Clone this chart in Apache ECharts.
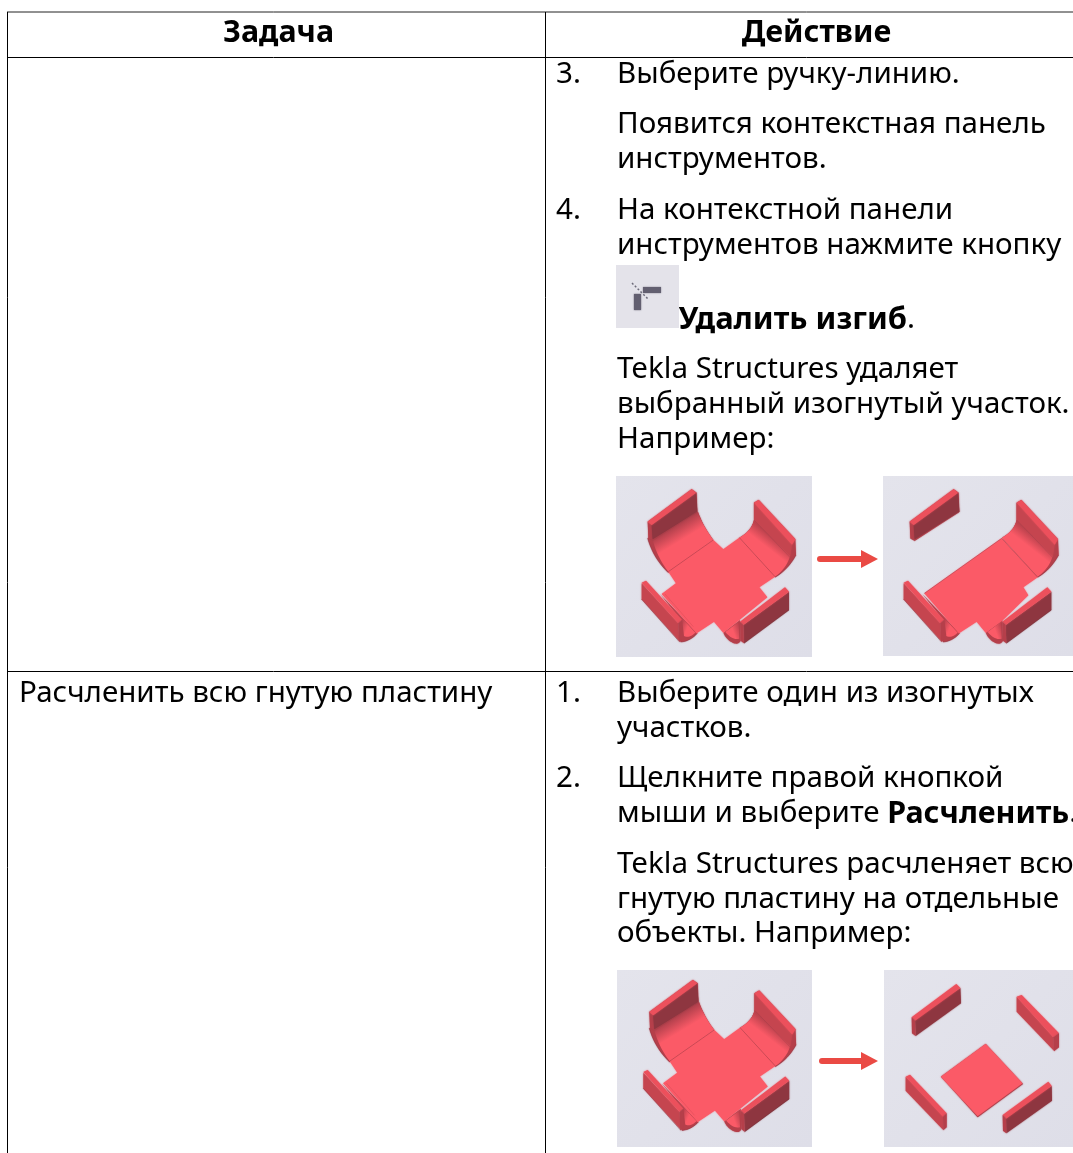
<!DOCTYPE html>
<html>
<head>
<meta charset="utf-8">
<title>Задача / Действие</title>
<style>
  html, body { margin: 0; padding: 0; background: #fff; }
  #main { width: 1073px; height: 1153px; }
</style>
<script src="https://cdn.jsdelivr.net/npm/echarts@6/dist/echarts.min.js"></script>
</head>
<body>
<div id="main"></div>
<script>
const headers = ['Задача', 'Действие'];
const taskLabels = ['Расчленить всю гнутую пластину'];
const stepNumbers = ['3.', '4.', '1.', '2.'];
const stepLines = [
  'Выберите ручку-линию.',
  'Появится контекстная панель',
  'инструментов.',
  'На контекстной панели',
  'инструментов нажмите кнопку',
  '{c|Удалить изгиб}{n|.}',
  'Tekla Structures удаляет',
  'выбранный изогнутый участок.',
  'Например:',
  'Выберите один из изогнутых',
  'участков.',
  'Щелкните правой кнопкой',
  'мыши и выберите {b|Расчленить}{n|.}',
  'Tekla Structures расчленяет всю',
  'гнутую пластину на отдельные',
  'объекты. Например:'
];
const stepLineY = [75, 125, 160, 211, 246, 320, 370, 405, 440, 694, 729, 779, 814, 865, 900, 934];
const stepNumberY = [75, 211, 694, 779];

const FONT = '"Noto Sans", sans-serif';
const FONT_SIZE = 29.55;
const BOLD_SIZE = 30.4;
const FLAT = '#fb5a67', DARK = '#8e3640', MID = '#c5454f', TOP = '#ec505c', RIM = '#b53f4a', EDGE = '#8a3440';
const BEND = { type: 'linear', x: 0, y: 0, x2: 0.6, y2: 1, colorStops: [{ offset: 0.33, color: '#ad3e4a' }, { offset: 0.56, color: FLAT }] };
const BEND_R = { type: 'linear', x: 1, y: 0, x2: 0.3, y2: 0.8, colorStops: [{ offset: 0.42, color: '#bd424d' }, { offset: 0.62, color: FLAT }] };
const BEND_BL = { type: 'linear', x: 0, y: 0, x2: 1, y2: 0.3, colorStops: [{ offset: 0, color: '#b03e4a' }, { offset: 0.6, color: FLAT }] };
const BEND_BR = { type: 'linear', x: 1, y: 0, x2: 0, y2: 0.3, colorStops: [{ offset: 0, color: '#b03e4a' }, { offset: 0.6, color: FLAT }] };

// the graphic component has no plain path type, so M/L/Q strings become point lists
function toPoints(d) {
  const t = d.match(/[MLQZ]|-?\d+(\.\d+)?/g);
  const pts = [];
  let i = 0, cx = 0, cy = 0;
  while (i < t.length) {
    const c = t[i++];
    if (c === 'M' || c === 'L') {
      cx = +t[i++]; cy = +t[i++];
      pts.push([cx, cy]);
    } else if (c === 'Q') {
      const qx = +t[i++], qy = +t[i++], ex = +t[i++], ey = +t[i++];
      for (let k = 1; k <= 10; k++) {
        const u = k / 10, v = 1 - u;
        pts.push([v * v * cx + 2 * u * v * qx + u * u * ex, v * v * cy + 2 * u * v * qy + u * u * ey]);
      }
      cx = ex; cy = ey;
    }
  }
  return pts;
}

function path(d, fill, stroke) {
  if (stroke) {
    return { type: 'polyline', shape: { points: toPoints(d) }, style: { fill: null, stroke: stroke, lineWidth: 2, opacity: 0.75 } };
  }
  const style = { fill: fill };
  if (typeof fill === 'string') {
    style.shadowBlur = 1.5;
    style.shadowColor = fill;
  }
  return { type: 'polygon', shape: { points: toPoints(d) }, style: style };
}

// bent plate pieces, drawn in 3x crop coordinates
const wallTL = () => [
  path('M113 155 L245 58 L260 68 L262 125 L128 212 L115 205 Z', RIM),
  path('M125 165 L258 70 L262 125 L128 208 Z', DARK),
  path('M113 155 L245 58 L258 68 L125 165 Z', TOP),
  path('M115 205 L128 212 L262 125', null, '#a8404a')
];
const bendTL = () => [
  path('M113 205 Q130 265 175 308 L310 210 Q280 170 264 125 Z', RIM),
  path('M128 208 L262 125 Q280 170 310 210 L175 305 Q140 260 128 208 Z', BEND),
  path('M113 205 Q130 265 175 308', null, EDGE)
];
const wallTR = () => [
  path('M432 98 L446 90 L556 208 L558 255 Q535 298 495 322 L388 203 Q425 182 432 150 Z', RIM),
  path('M432 98 L546 224 L540 262 L432 150 Z', MID),
  path('M432 98 L446 90 L556 208 L546 224 Z', TOP),
  path('M432 150 Q425 182 388 203 L495 320 Q530 295 540 258 Z', BEND_R),
  path('M432 150 L540 262', null, '#a8404a'),
  path('M558 255 Q535 298 495 322', null, EDGE)
];
const bendBL = () => [
  path('M150 372 L262 490 Q240 514 212 516 L205 505 L215 452 Z', RIM),
  path('M216 445 L256 488 Q238 506 222 498 Z', BEND_BL),
  path('M262 490 Q240 514 212 516', null, EDGE)
];
const wallBL = () => [
  path('M95 340 L205 460 L207 512 L95 388 Z', MID),
  path('M95 338 L108 332 L216 450 L205 460 Z', TOP),
  path('M205 460 L216 450 L216 508 L207 516 Z', RIM),
  path('M95 388 L207 514', null, EDGE)
];
const bendBR = () => [
  path('M340 488 L390 450 L392 512 Q385 526 368 518 Q350 510 340 488 Z', RIM),
  path('M346 486 L386 456 L388 506 Q368 512 346 486 Z', BEND_BR)
];
const wallBR = () => [
  path('M400 465 L537 365 L537 420 L402 520 Z', DARK),
  path('M390 455 L525 352 L537 365 L400 465 Z', TOP),
  path('M390 455 L400 465 L402 520 L392 512 Z', RIM),
  path('M402 520 L537 420', null, '#6f2a33')
];

function shifted(items, dx, dy) {
  return { type: 'group', x: dx, y: dy, children: items };
}

const plateFull = () => [].concat(
  bendTL(), wallTL(), wallTR(), bendBL(), bendBR(),
  [path('M175 305 L310 210 L340 238 L388 203 L495 320 L448 352 L472 382 L388 450 L340 488 L312 455 L260 490 L155 372 L198 340 Z', FLAT),
   path('M175 305 L310 210', null, '#a33b46'),
   path('M388 203 L495 320', null, '#a33b46'),
   path('M165 372 L250 470', null, '#d84c58')],
  wallBL(), wallBR()
);
const plateCut = () => [
  shifted(wallTL(), -9, 0),
  shifted(wallTR(), -7, 0),
  shifted(bendBL(), -8, 0),
  shifted(bendBR(), -8, 0),
  path('M148 370 L380 205 L488 322 L445 352 L460 376 L384 450 L332 488 L305 455 L252 490 Z', FLAT),
  path('M148 370 L380 205', null, '#a33b46'),
  path('M380 205 L488 322', null, '#a33b46'),
  shifted(wallBL(), -9, 0),
  shifted(wallBR(), -8, 0)
];
const plateApart = () => [
  path('M198 350 L308 472 L444 372 L332 252 Z', '#a33b46'),
  path('M198 350 L332 252 L442 370 L308 468 Z', FLAT),
  path('M120 172 L256 84 L258 130 L122 228 Z', DARK),
  path('M110 172 L244 72 L256 84 L120 182 Z', TOP),
  path('M110 172 L120 182 L122 228 L111 220 Z', RIM),
  path('M425 110 L535 232 L537 272 L425 155 Z', MID),
  path('M425 110 L440 105 L552 220 L535 232 Z', TOP),
  path('M535 232 L552 220 L552 262 L537 274 Z', RIM),
  path('M92 350 L204 468 L205 510 L92 392 Z', MID),
  path('M92 350 L105 344 L215 460 L204 470 Z', TOP),
  path('M204 470 L215 460 L215 502 L205 511 Z', RIM),
  path('M393 465 L530 378 L531 422 L394 520 Z', DARK),
  path('M383 465 L520 365 L530 378 L393 476 Z', TOP),
  path('M383 465 L393 476 L394 520 L384 512 Z', RIM)
];

function picture(x, y, w, h, ox, oy, sx, sy, children) {
  return [
    { type: 'rect', shape: { x: x, y: y, width: w, height: h },
      style: { fill: { type: 'linear', x: 0, y: 0, x2: 1, y2: 1, colorStops: [{ offset: 0, color: '#e4e4ec' }, { offset: 1, color: '#dedee8' }] } } },
    { type: 'group', x: ox, y: oy, scaleX: sx / 3, scaleY: sy / 3, children: children }
  ];
}

function arrow(x1, x2, y) {
  return [
    { type: 'line', shape: { x1: x1 + 3, y1: y, x2: x2 - 16, y2: y }, style: { stroke: '#ea4a44', lineWidth: 6, lineCap: 'round' } },
    { type: 'polygon', shape: { points: [[x2 - 17, y - 9], [x2, y], [x2 - 17, y + 9]] }, style: { fill: '#ea4a44' } }
  ];
}

function rule(x1, y1, x2, y2, color) {
  return { type: 'line', shape: { x1: x1, y1: y1, x2: x2, y2: y2 }, style: { stroke: color || '#000', lineWidth: 1 } };
}

function label(text, x, y, align, bold) {
  return {
    type: 'text', x: x, y: y,
    style: {
      text: text, fill: '#000', align: align || 'left', verticalAlign: 'middle',
      font: bold ? 'bold ' + BOLD_SIZE + 'px ' + FONT : FONT_SIZE + 'px ' + FONT,
      rich: {
        b: { font: 'bold ' + BOLD_SIZE + 'px ' + FONT, fill: '#000' },
        c: { font: 'bold 30.9px ' + FONT, fill: '#000' },
        n: { font: FONT_SIZE + 'px ' + FONT, fill: '#000' }
      }
    }
  };
}

const elements = [].concat(
  [
    rule(7, 12, 1073, 12, '#222'),
    rule(7, 57.5, 1073, 57.5),
    rule(7, 671.5, 1073, 671.5),
    rule(7.5, 12, 7.5, 1153),
    rule(545.5, 12, 545.5, 1153)
  ],
  [label(headers[0], 278.5, 33, 'center', true), label(headers[1], 816.5, 33, 'center', true)],
  [label(taskLabels[0], 19, 694)],
  stepNumbers.map((n, i) => label(n, 556, stepNumberY[i])),
  stepLines.map((t, i) => label(t, i === 5 ? 678.5 : 617, stepLineY[i])),
  // icon
  [
    { type: 'rect', shape: { x: 616, y: 265, width: 63, height: 63 }, style: { fill: '#e4e3ea' } },
    { type: 'rect', shape: { x: 643, y: 287, width: 18, height: 6 }, style: { fill: '#625f70', shadowBlur: 1.5, shadowColor: '#625f70' } },
    { type: 'rect', shape: { x: 634, y: 294, width: 7, height: 16 }, style: { fill: '#625f70', shadowBlur: 1.5, shadowColor: '#625f70' } },
    { type: 'line', shape: { x1: 632, y1: 283, x2: 648, y2: 299 }, style: { stroke: '#6d6b7a', lineWidth: 1.5, lineDash: [2, 2] } }
  ],
  picture(616, 476, 196, 181, 610, 470, 1, 1, plateFull()),
  arrow(817, 878, 559),
  picture(883, 476, 190, 180, 875, 470, 1, 1, plateCut()),
  picture(617, 970, 195, 177, 612, 961, 0.99, 0.985, plateFull()),
  arrow(819, 878, 1061),
  picture(884, 970, 189, 177, 875, 960, 1, 1, plateApart())
);

const chart = echarts.init(document.getElementById('main'), null, { renderer: 'canvas' });
chart.setOption({
  backgroundColor: '#ffffff',
  animation: false,
  graphic: { elements: elements }
});
</script>
</body>
</html>
